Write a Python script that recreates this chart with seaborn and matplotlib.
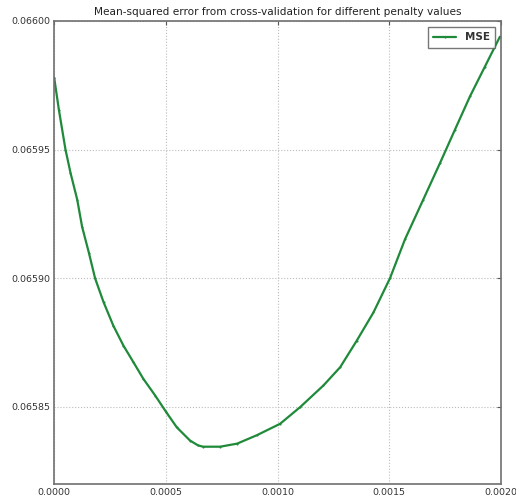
import matplotlib
matplotlib.use("Agg")
import matplotlib.pyplot as plt
import seaborn as sns
import pandas as pd

# penalty values (alpha) and cross-validated MSE
penalty = [0.0, 0.000021, 0.0000506, 0.000073, 0.000103, 0.000125, 0.000155,
           0.000183, 0.000221, 0.000265, 0.000310, 0.000355, 0.000399,
           0.000452, 0.000501, 0.000549, 0.000608, 0.000644, 0.000667,
           0.000743, 0.000819, 0.000908, 0.001011, 0.001101, 0.001205,
           0.001280, 0.001354, 0.001429, 0.001503, 0.001570, 0.001652,
           0.001727, 0.001794, 0.001861, 0.001928, 0.001995]
mse = [0.065978, 0.0659655, 0.065950, 0.065941, 0.0659306, 0.065920, 0.065910,
       0.065900, 0.0658907, 0.0658815, 0.0658738, 0.0658673, 0.0658609,
       0.0658544, 0.0658480, 0.0658420, 0.0658369, 0.0658350, 0.0658345,
       0.0658345, 0.0658357, 0.0658390, 0.0658434, 0.0658499, 0.0658583,
       0.0658654, 0.0658757, 0.0658867, 0.0659000, 0.0659151, 0.0659306,
       0.0659448, 0.0659578, 0.0659707, 0.0659823, 0.0659939]

x_ticks = [0.0, 0.0005, 0.0010, 0.0015, 0.0020]
y_ticks = [0.06585, 0.06590, 0.06595, 0.06600]

df = pd.DataFrame({"penalty": penalty, "MSE": mse})

sns.set_style("white")
plt.rcParams["font.family"] = ["DejaVu Sans"]

fig = plt.figure(figsize=(5.16, 5.0), dpi=100)
ax = fig.add_axes([0.105, 0.032, 0.866, 0.926])

sns.lineplot(data=df, x="penalty", y="MSE", color="#1f8a3a", linewidth=1.6,
             marker=".", markersize=3, markeredgewidth=0, label="MSE", ax=ax)

ax.set_xlim(0.0, 0.0020)
ax.set_ylim(0.06582, 0.06600)
ax.set_xticks(x_ticks)
ax.set_yticks(y_ticks)
ax.set_xticklabels([f"{v:.4f}" for v in x_ticks])
ax.set_yticklabels([f"{v:.5f}" for v in y_ticks])
ax.tick_params(direction="in", length=3, width=0.8, colors="#555555",
               labelcolor="#333333", labelsize=6.8, top=True, right=True, pad=3)
ax.set_xlabel("")
ax.set_ylabel("")

ax.grid(True, linestyle=":", color="#bbbbbb", linewidth=0.8)
for s in ax.spines.values():
    s.set_color("#707070")
    s.set_linewidth(1.2)

ax.set_title("Mean-squared error from cross-validation for different penalty values",
             fontsize=7.6, color="#222222", pad=4)

leg = ax.legend(loc="upper right", fontsize=7.5, frameon=True, fancybox=False,
                borderpad=0.5, handlelength=2.2, borderaxespad=0.6)
leg.get_frame().set_edgecolor("#555555")
leg.get_frame().set_linewidth(1.0)
for t in leg.get_texts():
    t.set_fontweight("bold")
    t.set_color("#333333")

fig.savefig("out.png", dpi=100)
